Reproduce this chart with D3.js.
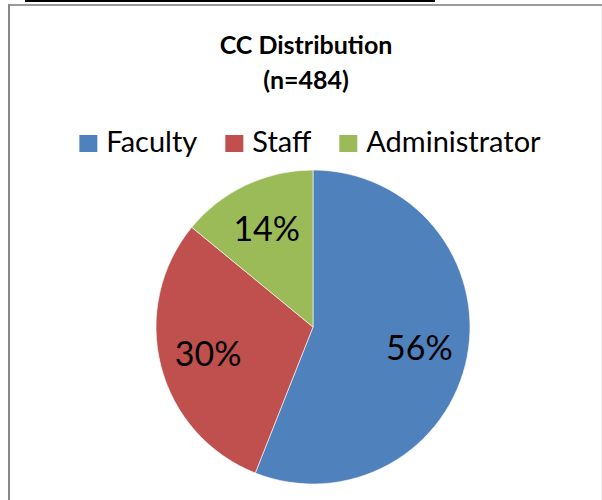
<!DOCTYPE html>
<html>
<head>
<meta charset="utf-8">
<script src="https://cdn.jsdelivr.net/npm/d3@7"></script>
<style>
body { margin:0; background:#fff; }
text { font-family: Lato, "Open Sans", sans-serif; }
</style>
</head>
<body>
<script>
var categories = ["Faculty", "Staff", "Administrator"];
var counts = [271, 145, 68];
var colors = ["#4F81BD", "#C0504D", "#9BBB59"];
var titleLines = ["CC Distribution", "(n=484)"];

var totalWidth = 602, totalHeight = 500;
var cx = 313, cy = 327, radius = 157;

var svg = d3.select("body").append("svg")
  .attr("width", totalWidth)
  .attr("height", totalHeight);

// frame
svg.append("rect").attr("x", 25).attr("y", 0).attr("width", 410).attr("height", 2).attr("fill", "#000");
svg.append("rect").attr("x", 8).attr("y", 4).attr("width", 594).attr("height", 2).attr("fill", "#9a9a9a");
svg.append("rect").attr("x", 8).attr("y", 4).attr("width", 2).attr("height", 496).attr("fill", "#888");
svg.append("rect").attr("x", 601).attr("y", 6).attr("width", 1).attr("height", 494).attr("fill", "#eee");

// title
svg.selectAll(".title").data(titleLines).enter().append("text")
  .attr("class", "title")
  .attr("x", 306)
  .attr("y", function(d, i) { return 54 + i * 35; })
  .attr("text-anchor", "middle")
  .attr("font-size", "25px")
  .attr("font-weight", "bold")
  .text(function(d) { return d; });

// legend
var legend = svg.append("g");
var items = legend.selectAll("g").data(categories).enter().append("g");
items.append("rect").attr("width", 18).attr("height", 17).attr("y", 135)
  .attr("fill", function(d, i) { return colors[i]; });
items.append("text").attr("x", 27).attr("y", 152)
  .attr("font-size", "29px")
  .attr("fill", "#000")
  .text(function(d) { return d; });
var xpos = 0;
items.each(function() {
  var w = d3.select(this).select("text").node().getComputedTextLength();
  d3.select(this).attr("transform", "translate(" + xpos + ",0)");
  xpos += 27 + w + 28;
});
var legendW = xpos - 28;
legend.attr("transform", "translate(" + (310 - legendW / 2) + ",0)");

// pie
var pie = d3.pie().sort(null).value(function(d) { return d; });
var arc = d3.arc().innerRadius(0).outerRadius(radius);
var labelArc = d3.arc().innerRadius(radius * 0.69).outerRadius(radius * 0.69);
var total = d3.sum(counts);

var g = svg.append("g").attr("transform", "translate(" + cx + "," + cy + ")");
var slices = pie(counts);
g.selectAll("path").data(slices).enter().append("path")
  .attr("d", arc)
  .attr("fill", function(d, i) { return colors[i]; })
  .attr("stroke", "#fff").attr("stroke-width", 0.6);

g.selectAll(".lbl").data(slices).enter().append("text")
  .attr("class", "lbl")
  .attr("transform", function(d) { return "translate(" + labelArc.centroid(d) + ")"; })
  .attr("text-anchor", "middle")
  .attr("dy", "0.36em")
  .attr("font-size", "34px")
  .text(function(d) { return Math.round(d.value / total * 100) + "%"; });
</script>
</body>
</html>
